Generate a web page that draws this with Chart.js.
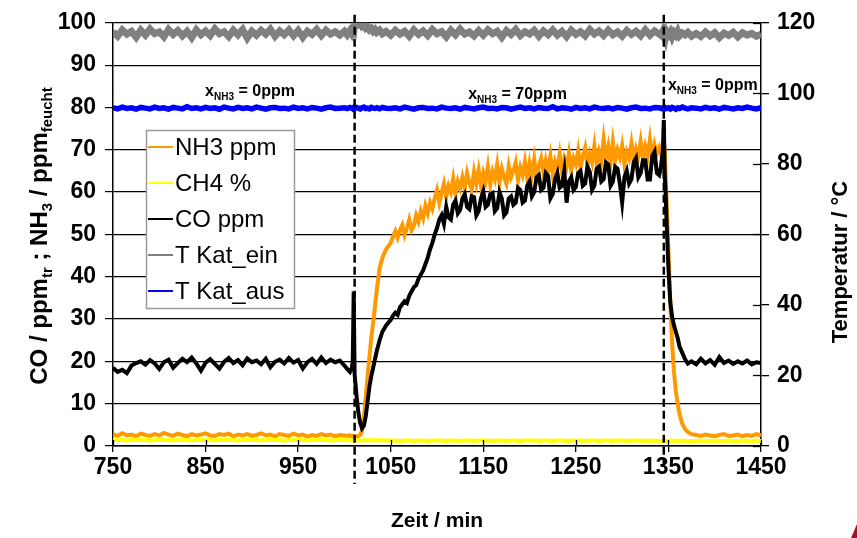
<!DOCTYPE html>
<html>
<head>
<meta charset="utf-8">
<script src="https://cdn.jsdelivr.net/npm/chart.js@4.4.1/dist/chart.umd.min.js"></script>
<style>
  html, body { margin: 0; padding: 0; background: #fff; }
  canvas { display: block; }
</style>
</head>
<body>
<canvas id="c" width="857" height="538"></canvas>
<script>
// Messzeitpunkte in min (Temperaturen, CH4)
const zeit = [
  750,755,760,765,770,775,780,785,790,795,
  800,805,810,815,820,825,830,835,840,845,
  850,855,860,865,870,875,880,885,890,895,
  900,905,910,915,920,925,930,935,940,945,
  950,955,960,965,970,975,980,985,990,995,
  1000,
  1003,1006,1008,1009,1010,1011,1013,1015,1017,1019,1021,1023,1025,1027,1029,1031,1033,1035,1038,1041,1045,
  1050,1055,1060,1065,1070,1075,1080,1085,1090,1095,
  1100,1105,1110,1115,1120,1125,1130,1135,1140,1145,
  1150,1155,1160,1165,1170,1175,1180,1185,1190,1195,
  1200,1205,1210,1215,1220,1225,1230,1235,1240,1245,
  1250,1255,1260,1265,1270,1275,1280,1285,1290,1295,
  1300,1305,1310,1315,1320,1325,1330,1335,1340,
  1342,1344,1345,1346,1347,1348,1350,1352,1354,1356,1358,1360,1362,1365,1368,1371,1375,
  1380,1385,1390,1395,1400,1405,1410,1415,1420,1425,1430,1435,1440,1445,1450
];

// Messzeitpunkte in min (NH3, CO), in der Dosierphase dichter
const zeitGas = [
  750,755,760,765,770,775,780,785,790,795,
  800,805,810,815,820,825,830,835,840,845,
  850,855,860,865,870,875,880,885,890,895,
  900,905,910,915,920,925,930,935,940,945,
  950,955,960,965,970,975,980,985,990,995,
  1000,
  1003,1006,1008,1009,1010,1011,1013,1015,1017,1019,1021,1023,1025,1027,1029,1031,1033,1035,1038,1041,1045,
  1050,1052.5,1055,1057.5,1060,1062.5,1065,1067.5,1070,1072.5,
  1075,1077.5,1080,1082.5,1085,1087.5,1090,1092.5,1095,1097.5,
  1100,1102.5,1105,1107.5,1110,1112.5,1115,1117.5,1120,1122.5,
  1125,1127.5,1130,1132.5,1135,1137.5,1140,1142.5,1145,1147.5,
  1150,1152.5,1155,1157.5,1160,1162.5,1165,1167.5,1170,1172.5,
  1175,1177.5,1180,1182.5,1185,1187.5,1190,1192.5,1195,1197.5,
  1200,1202.5,1205,1207.5,1210,1212.5,1215,1217.5,1220,1222.5,
  1225,1227.5,1230,1232.5,1235,1237.5,1240,1242.5,1245,1247.5,
  1250,1252.5,1255,1257.5,1260,1262.5,1265,1267.5,1270,1272.5,
  1275,1277.5,1280,1282.5,1285,1287.5,1290,1292.5,1295,1297.5,
  1300,1302.5,1305,1307.5,1310,1312.5,1315,1317.5,1320,1322.5,
  1325,1327.5,1330,1332.5,1335,1337.5,1340,
  1342,1344,1345,1346,1347,1348,1350,1352,1354,1356,1358,1360,1362,1365,1368,1371,1375,
  1380,1385,1390,1395,1400,1405,1410,1415,1420,1425,1430,1435,1440,1445,1450
];

// NH3 in ppm (feucht)
const nh3 = [
  2.8,2.4,3.0,2.5,2.7,2.3,2.9,2.6,2.4,2.8,
  2.5,3.1,2.7,2.4,2.9,2.6,2.3,2.8,2.5,2.7,
  3.0,2.5,2.4,2.8,2.6,2.9,2.3,2.7,2.5,2.8,
  2.4,2.6,3.0,2.5,2.7,2.3,2.8,2.6,2.4,2.9,
  2.5,2.7,2.2,2.6,2.4,2.8,2.5,2.7,2.3,2.6,
  2.5,
  2.4,2.5,2.3,2.4,2.2,2.3,2.2,2.4,2.6,3.5,6.5,11.5,16.5,21.0,25.5,29.0,33.0,37.0,42.0,44.5,46.5,
  48.0,49.5,50.8,49.2,51.0,52.2,49.8,51.5,53.5,51.0,
  52.0,54.5,53.0,55.5,53.8,56.8,55.0,57.5,56.0,58.5,
  60.5,57.5,59.8,62.0,58.8,61.5,60.0,63.2,59.5,62.5,
  60.8,63.5,61.0,64.5,62.2,60.5,64.8,62.0,65.2,61.5,
  64.5,62.5,66.0,61.8,64.8,63.0,66.5,62.2,65.5,63.5,
  62.0,66.2,63.5,65.0,67.0,62.8,65.8,64.0,67.2,63.2,
  66.8,64.0,67.8,63.5,66.2,68.0,64.5,67.5,65.0,68.5,
  64.2,67.2,65.5,69.0,64.8,67.8,66.0,69.2,65.2,68.0,
  66.5,69.8,65.8,68.5,70.5,66.2,69.0,67.0,71.0,66.5,
  69.5,67.2,72.5,68.0,70.8,66.8,71.8,67.5,70.0,68.2,
  71.0,66.5,69.5,68.0,71.5,67.2,70.2,68.5,72.0,67.8,
  70.8,68.5,72.5,68.0,71.2,69.0,70.5,
  69.0,71.5,72.0,70.0,64.0,58.0,46.0,34.0,24.0,17.5,13.0,10.0,7.5,5.2,4.0,3.3,2.8,
  2.6,2.4,2.7,2.5,2.3,2.6,2.8,2.4,2.5,2.7,2.3,2.6,2.4,2.8,2.5
];

// CO in ppm (trocken)
const co = [
  18.5,17.5,18.0,17.2,19.0,19.6,20.0,19.2,20.3,19.5,
  18.2,19.8,20.4,18.5,19.6,20.6,19.8,20.9,19.5,17.8,
  19.7,20.5,19.4,18.3,19.9,20.8,19.6,20.3,19.1,20.7,
  19.8,20.2,19.3,20.6,18.6,19.9,20.4,19.5,20.8,19.7,
  20.3,18.3,19.8,20.6,19.4,20.9,19.6,20.4,19.8,20.2,
  19.0,
  18.2,17.5,18.5,20.0,36.5,17.0,12.0,8.0,5.5,4.2,4.8,7.0,10.5,14.0,16.5,18.5,20.5,22.5,25.0,27.0,28.5,
  29.8,30.8,31.5,31.0,32.8,33.5,34.2,33.8,35.5,36.5,
  37.5,38.0,39.5,40.5,41.5,43.0,44.5,46.5,48.0,50.0,
  51.5,53.5,54.5,52.5,56.5,54.0,53.5,57.0,58.0,55.0,
  55.8,58.5,59.5,56.5,56.0,59.0,58.8,54.5,55.5,58.5,
  60.2,56.5,57.0,59.5,59.8,55.5,56.2,60.0,58.5,54.5,
  55.2,58.5,59.0,57.0,57.5,61.0,60.5,57.5,58.0,61.5,
  62.5,59.0,60.0,63.5,64.0,60.5,61.0,64.5,63.8,58.5,
  59.5,63.0,64.5,61.0,61.5,65.0,57.5,62.5,63.5,60.5,
  61.2,64.5,65.0,61.5,62.0,66.0,64.8,60.5,61.5,65.5,
  66.0,62.5,63.0,67.0,66.5,61.5,62.5,66.0,65.5,62.0,
  57.5,63.5,65.0,62.0,63.0,67.0,68.0,63.5,64.5,67.5,
  67.5,63.0,63.0,68.5,69.5,64.5,64.0,
  66.0,70.0,77.0,64.0,60.0,53.0,42.0,34.0,30.5,28.5,27.0,25.5,23.5,22.0,20.5,19.5,20.0,
  19.3,20.6,19.5,20.3,19.2,21.0,19.6,20.2,19.4,20.0,19.5,20.2,19.3,19.8,19.6
];

// CH4 in %
const ch4 = [
  1.4,1.5,1.4,1.3,1.4,1.5,1.4,1.4,1.3,1.4,
  1.5,1.4,1.4,1.3,1.4,1.5,1.4,1.3,1.4,1.4,
  1.5,1.4,1.3,1.4,1.4,1.5,1.4,1.3,1.4,1.5,
  1.4,1.4,1.3,1.4,1.5,1.4,1.4,1.3,1.4,1.4,
  1.5,1.4,1.3,1.4,1.4,1.5,1.4,1.3,1.4,1.4,
  1.4,
  1.4,1.3,1.4,1.3,1.4,1.3,1.3,1.4,1.3,1.3,1.4,1.3,1.3,1.4,1.3,1.3,1.4,1.3,1.3,1.4,1.3,
  1.3,1.3,1.2,1.3,1.3,1.2,1.3,1.3,1.2,1.3,
  1.3,1.3,1.2,1.3,1.3,1.2,1.3,1.3,1.2,1.3,
  1.3,1.3,1.2,1.3,1.3,1.2,1.3,1.3,1.2,1.3,
  1.3,1.3,1.2,1.3,1.3,1.2,1.3,1.3,1.2,1.3,
  1.3,1.3,1.2,1.3,1.3,1.2,1.3,1.3,1.2,1.3,
  1.3,1.2,1.3,1.3,1.2,1.3,1.2,1.3,1.2,
  1.2,1.3,1.2,1.2,1.3,1.2,1.2,1.3,1.2,1.2,1.3,1.2,1.2,1.3,1.2,1.2,1.2,
  1.2,1.3,1.2,1.2,1.3,1.2,1.2,1.3,1.2,1.2,1.3,1.2,1.2,1.3,1.2
];

// Katalysatortemperatur Eintritt in °C
const tKatEin = [
  117.5,116.2,118.0,116.8,117.6,115.9,117.9,116.5,118.2,116.9,
  117.4,116.0,118.1,116.7,117.8,116.3,117.6,115.8,118.0,116.6,
  117.7,116.4,118.3,116.9,117.5,116.1,117.9,116.6,118.1,115.7,
  117.6,116.5,117.9,116.8,118.2,116.2,117.7,116.6,118.0,116.3,
  117.8,115.9,117.6,116.7,118.1,116.4,117.9,116.8,117.5,116.5,
  117.6,
  116.6,117.8,116.9,117.5,117.3,119.8,120.2,119.5,119.9,119.0,119.4,118.5,118.9,118.0,118.4,117.6,118.1,117.3,117.9,116.9,117.6,
  116.5,117.9,116.8,117.6,116.2,118.0,116.7,117.7,116.4,118.1,
  116.9,117.5,116.0,117.9,116.6,118.2,116.8,117.4,116.3,117.8,
  116.5,118.0,116.9,117.6,115.9,117.8,116.7,118.1,116.4,117.5,
  116.8,117.9,116.2,117.7,116.6,118.0,116.5,117.6,116.1,117.9,
  116.7,117.5,116.3,118.1,116.8,117.7,116.4,117.9,116.6,117.4,
  116.2,117.8,116.7,117.6,116.3,118.0,116.5,117.7,116.8,
  116.4,117.6,116.8,117.3,116.2,117.5,116.6,117.4,116.0,117.2,116.5,117.6,116.3,117.1,116.6,117.3,116.2,
  117.0,116.1,117.4,116.3,117.2,115.8,117.1,116.4,117.3,116.0,117.2,116.5,117.0,116.2,116.8
];

// Katalysatortemperatur Austritt in °C
const tKatAus = [
  95.9,95.6,96.1,95.7,95.9,95.5,96.0,95.8,95.6,96.1,
  95.7,95.9,95.5,96.0,95.8,95.6,96.2,95.7,95.9,95.6,
  96.0,95.7,95.9,95.5,96.1,95.8,95.6,96.0,95.7,95.9,
  95.6,96.1,95.8,95.5,95.9,96.0,95.7,95.8,95.6,96.1,
  95.7,95.9,95.6,96.0,95.8,95.5,95.9,96.1,95.7,95.8,
  95.9,
  95.7,96.0,95.8,95.6,95.9,95.7,96.0,95.8,95.6,95.9,96.1,95.7,95.8,95.6,96.0,95.8,95.7,95.9,95.6,96.0,95.8,
  95.7,95.9,95.6,96.1,95.8,95.5,95.9,96.0,95.7,95.8,
  95.6,96.1,95.8,95.7,95.9,95.5,96.0,95.8,95.6,95.9,
  96.1,95.7,95.8,95.6,96.0,95.9,95.5,95.8,96.1,95.7,
  95.9,95.6,96.0,95.8,95.7,96.2,95.6,95.9,95.8,95.5,
  96.0,95.7,95.9,95.6,96.1,95.8,95.7,95.9,95.6,96.0,
  95.8,95.5,95.9,96.1,95.7,95.8,95.6,96.0,95.9,
  95.7,95.9,95.6,96.0,95.8,95.7,95.9,95.6,96.0,95.8,95.5,95.9,95.7,96.1,95.8,95.6,95.9,
  95.8,95.6,96.0,95.7,95.9,95.5,96.0,95.8,95.6,95.9,95.7,96.1,95.8,95.6,95.9
];

// Achsenbeschriftungen
const zeitTicks = [750, 850, 950, 1050, 1150, 1250, 1350, 1450];
const ppmTicks = [0, 10, 20, 30, 40, 50, 60, 70, 80, 90, 100];
const tempTicks = [0, 20, 40, 60, 80, 100, 120];

// Umschaltzeitpunkte der NH3-Dosierung und Phasenbeschriftung
const umschaltZeiten = [1011, 1345];
const phasenZeit = [898, 1187, 1398];
const phasenHoehe = [82.8, 81.9, 84.2];
const phasenWert = ['0ppm', '70ppm', '0ppm'];

const FONT = '"Liberation Sans", Arial, Helvetica, sans-serif';
Chart.defaults.font.family = FONT;
Chart.defaults.color = '#000';

[[nh3, zeitGas], [co, zeitGas], [ch4, zeit], [tKatEin, zeit], [tKatAus, zeit]].forEach(([a, t], i) => {
  if (a.length !== t.length) console.error('Reihe ' + i + ': ' + a.length + ' statt ' + t.length);
});

const punkte = (t, werte) => t.map((x, i) => ({ x: x, y: werte[i] }));

const reihen = [
  { label: 'NH3 ppm',   data: punkte(zeitGas, nh3), borderColor: '#ff9900', borderWidth: 4,   yAxisID: 'y',  order: 2 },
  { label: 'CH4 %',     data: punkte(zeit, ch4),    borderColor: '#ffff00', borderWidth: 4,   yAxisID: 'y',  order: 1 },
  { label: 'CO ppm',    data: punkte(zeitGas, co),  borderColor: '#000000', borderWidth: 4,   yAxisID: 'y',  order: 0 },
  { label: 'T Kat_ein', data: punkte(zeit, tKatEin), borderColor: '#808080', borderWidth: 7,  yAxisID: 'y1', order: 3 },
  { label: 'T Kat_aus', data: punkte(zeit, tKatAus), borderColor: '#0000ff', borderWidth: 5.5, yAxisID: 'y1', order: 4 }
];

function strich(ctx, x1, y1, x2, y2) {
  ctx.beginPath(); ctx.moveTo(x1, y1); ctx.lineTo(x2, y2); ctx.stroke();
}

// Text mit tiefgestellten Teilen, zentriert um (cx, cy)
function formelText(ctx, teile, cx, cy, rot, groesse, subGroesse, subTief) {
  ctx.save();
  ctx.translate(cx, cy);
  ctx.rotate(rot);
  ctx.textAlign = 'left';
  ctx.textBaseline = 'alphabetic';
  ctx.fillStyle = '#000';
  let gesamt = 0;
  const breiten = teile.map(p => {
    ctx.font = 'bold ' + (p.sub ? subGroesse : groesse) + 'px ' + FONT;
    const w = ctx.measureText(p.t).width;
    gesamt += w;
    return w;
  });
  let x = -gesamt / 2;
  teile.forEach((p, i) => {
    ctx.font = 'bold ' + (p.sub ? subGroesse : groesse) + 'px ' + FONT;
    ctx.fillText(p.t, x, p.sub ? subTief : 0);
    x += breiten[i];
  });
  ctx.restore();
}

const zusatz = {
  id: 'zusatz',
  afterDatasetsDraw(chart) {
    const { ctx, chartArea: a, scales } = chart;
    const sx = scales.x, sy = scales.y, sy1 = scales.y1;
    ctx.save();

    // nach innen weisende Teilstriche
    ctx.strokeStyle = '#000';
    ctx.lineWidth = 1.3;
    sx.ticks.forEach(t => {
      const px = Math.round(sx.getPixelForValue(t.value)) + 0.5;
      strich(ctx, px, a.bottom, px, a.bottom - 6);
    });
    sy1.ticks.forEach(t => {
      const py = Math.round(sy1.getPixelForValue(t.value)) + 0.5;
      strich(ctx, a.right, py, a.right - 8, py);
    });

    // Umschaltzeitpunkte als gestrichelte Linien
    const unterlaenge = [38, 22];
    ctx.setLineDash([8, 4]);
    ctx.lineWidth = 2.5;
    umschaltZeiten.forEach((t, i) => {
      const px = sx.getPixelForValue(t);
      strich(ctx, px, a.top - 8, px, a.bottom + unterlaenge[i]);
    });
    ctx.setLineDash([]);

    // Phasenbeschriftung
    phasenZeit.forEach((t, i) => {
      formelText(ctx, [{ t: 'x' }, { t: 'NH3', sub: true }, { t: ' = ' + phasenWert[i] }],
        sx.getPixelForValue(t), sy.getPixelForValue(phasenHoehe[i]), 0, 16, 10, 4);
    });

    // Legende
    const lx = 146, ly = 130, lw = 148, lh = 178;
    ctx.fillStyle = '#fff';
    ctx.fillRect(lx, ly, lw, lh);
    ctx.strokeStyle = '#9a9a9a';
    ctx.lineWidth = 1.5;
    ctx.strokeRect(lx + 0.5, ly + 0.5, lw, lh);
    ctx.font = '24px ' + FONT;
    ctx.textAlign = 'left';
    ctx.textBaseline = 'middle';
    chart.data.datasets.forEach((ds, i) => {
      const yy = ly + 17 + i * 36;
      ctx.strokeStyle = ds.borderColor;
      ctx.lineWidth = 2;
      strich(ctx, lx + 2, yy, lx + 27, yy);
      ctx.fillStyle = '#000';
      ctx.fillText(ds.label, lx + 29, yy + 1);
    });

    // Achsentitel links und rechts
    formelText(ctx, [
      { t: 'CO / ppm' }, { t: 'tr', sub: true }, { t: ' ; NH' }, { t: '3', sub: true },
      { t: ' / ppm' }, { t: 'feucht', sub: true }
    ], 47, 236, -Math.PI / 2, 24, 15, 5);
    formelText(ctx, [{ t: 'Temperatur / °C' }], 847, 262, -Math.PI / 2, 22, 14, 0);

    // Ecke unten rechts
    ctx.fillStyle = '#a8121e';
    ctx.beginPath();
    ctx.moveTo(851, 538); ctx.lineTo(857, 524); ctx.lineTo(857, 538);
    ctx.closePath();
    ctx.fill();

    ctx.restore();
  }
};

const tickFont = { size: 23, weight: 'bold' };
const ganzzahl = v => String(v);

new Chart(document.getElementById('c'), {
  type: 'line',
  data: { datasets: reihen },
  options: {
    responsive: false,
    animation: false,
    events: [],
    layout: { padding: { top: 21, left: 0, right: 0, bottom: 0 } },
    elements: { point: { radius: 0 }, line: { tension: 0, fill: false } },
    plugins: { legend: { display: false }, tooltip: { enabled: false } },
    scales: {
      x: {
        type: 'linear', min: 750, max: 1450,
        afterBuildTicks: s => { s.ticks = zeitTicks.map(v => ({ value: v })); },
        afterFit: s => { s.height = 92; },
        ticks: { font: tickFont, color: '#000', padding: 2, autoSkip: false, maxRotation: 0, callback: ganzzahl },
        grid: { drawOnChartArea: false, tickLength: 6, color: '#000', lineWidth: 1.3 },
        border: { color: '#000', width: 1.5 },
        title: { display: true, text: 'Zeit / min', color: '#000',
                 font: { size: 21, weight: 'bold' }, padding: { top: 0, bottom: 4 } }
      },
      y: {
        position: 'left', min: 0, max: 100,
        afterBuildTicks: s => { s.ticks = ppmTicks.map(v => ({ value: v })); },
        afterFit: s => { s.width = 113; },
        ticks: { font: tickFont, color: '#000', padding: 9, callback: ganzzahl },
        grid: { color: '#000', lineWidth: 1.2, tickLength: 8 },
        border: { color: '#000', width: 1.5 }
      },
      y1: {
        position: 'right', min: 0, max: 120,
        afterBuildTicks: s => { s.ticks = tempTicks.map(v => ({ value: v })); },
        afterFit: s => { s.width = 96; },
        ticks: { font: tickFont, color: '#000', padding: 8, callback: ganzzahl },
        grid: { drawOnChartArea: false, color: '#000', lineWidth: 1.3, tickLength: 8 },
        border: { color: '#000', width: 1.5 }
      }
    }
  },
  plugins: [zusatz]
});
</script>
</body>
</html>
